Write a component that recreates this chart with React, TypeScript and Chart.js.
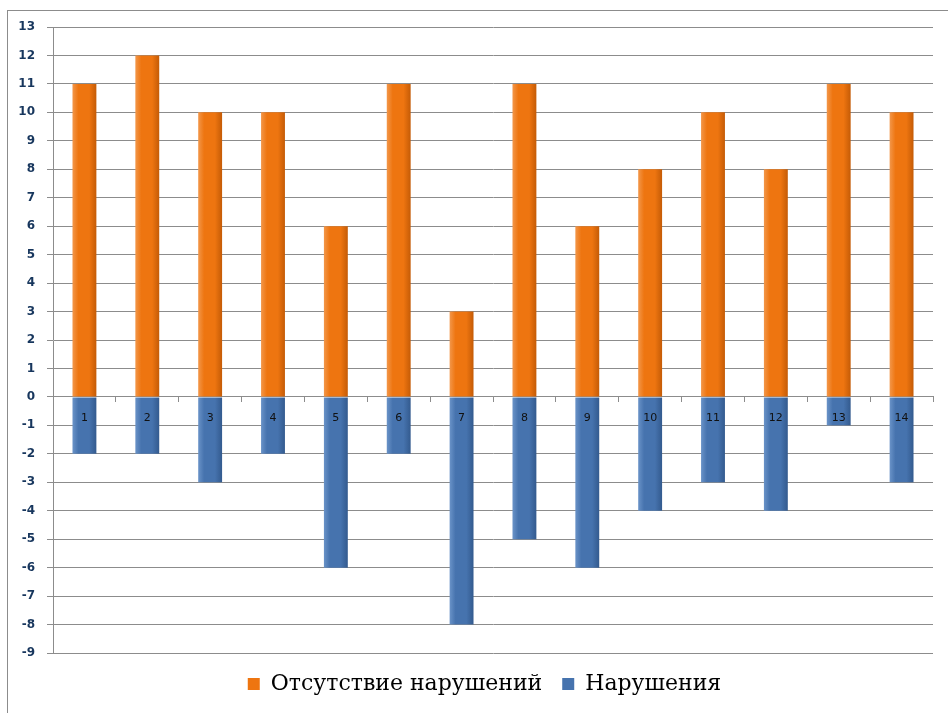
import React, { useEffect, useRef } from "react";
import { Chart, registerables } from "chart.js";

Chart.register(...registerables);

const categories = ["1", "2", "3", "4", "5", "6", "7", "8", "9", "10", "11", "12", "13", "14"];
const noViolations = [11, 12, 10, 10, 6, 11, 3, 11, 6, 8, 10, 8, 11, 10];
const violations = [-2, -2, -3, -2, -6, -2, -8, -5, -6, -4, -3, -4, -1, -3];
const seriesNames = ["Отсутствие нарушений", "Нарушения"];
const yMin = -9;
const yMax = 13;

function barGradient(stops: string[]) {
  return (ctx: any) => {
    const chart = ctx.chart;
    const xs = chart.scales && chart.scales.x;
    if (!chart.chartArea || !xs || ctx.dataIndex === undefined) return stops[1];
    const x = xs.getPixelForValue(ctx.dataIndex);
    const w = 12;
    const g = chart.ctx.createLinearGradient(x - w, 0, x + w, 0);
    g.addColorStop(0, stops[0]);
    g.addColorStop(0.25, stops[1]);
    g.addColorStop(0.7, stops[1]);
    g.addColorStop(1, stops[2]);
    return g;
  };
}

const categoryLabelPlugin = {
  id: "categoryLabels",
  afterDatasetsDraw(chart: any) {
    const xs = chart.scales.x;
    const ys = chart.scales.y;
    const ctx = chart.ctx;
    const y0 = ys.getPixelForValue(0);
    ctx.save();
    ctx.fillStyle = "#111111";
    ctx.font = "11px 'DejaVu Sans', sans-serif";
    ctx.textAlign = "center";
    ctx.textBaseline = "middle";
    chart.data.labels.forEach((lab: string, i: number) => {
      ctx.fillText(lab, xs.getPixelForValue(i), y0 + 21);
    });
    ctx.restore();
  },
};

const legendShiftPlugin = {
  id: "legendShift",
  afterLayout(chart: any) {
    const lg = chart.legend;
    if (lg) {
      lg.left += 18;
      lg.right += 18;
    }
  },
};

export default function App() {
  const ref = useRef<HTMLCanvasElement | null>(null);

  useEffect(() => {
    if (!ref.current) return;
    const chart = new Chart(ref.current, {
      type: "bar",
      data: {
        labels: categories,
        datasets: [
          {
            label: seriesNames[0],
            data: noViolations,
            backgroundColor: barGradient(["#F3974A", "#EE7510", "#C45B06"]),
            borderWidth: 0,
            barPercentage: 0.38,
            categoryPercentage: 1,
          },
          {
            label: seriesNames[1],
            data: violations,
            backgroundColor: barGradient(["#6A93C8", "#4673AE", "#335A8E"]),
            borderWidth: 0,
            barPercentage: 0.38,
            categoryPercentage: 1,
          },
        ],
      },
      plugins: [categoryLabelPlugin, legendShiftPlugin],
      options: {
        animation: false,
        responsive: false,
        maintainAspectRatio: false,
        layout: { padding: { left: 0, top: 27, right: 15, bottom: 8 } },
        plugins: {
          tooltip: { enabled: false },
          legend: {
            position: "bottom",
            labels: {
              boxWidth: 12,
              boxHeight: 12,
              padding: 20,
              color: "#000000",
              font: { family: "'DejaVu Serif', serif", size: 22 },
              generateLabels: (c: any) =>
                c.data.datasets.map((d: any, i: number) => ({
                  text: d.label,
                  fillStyle: i === 0 ? "#EE7510" : "#4673AE",
                  strokeStyle: i === 0 ? "#C8620A" : "#3A6298",
                  lineWidth: 0,
                  hidden: false,
                  datasetIndex: i,
                  fontColor: "#000000",
                })),
            },
          },
        },
        scales: {
          x: {
            stacked: true,
            position: { y: 0 },
            z: 1,
            offset: true,
            grid: {
              display: true,
              drawOnChartArea: false,
              drawTicks: true,
              tickLength: 5,
              color: "#8C8C8C",
              offset: true,
            },
            border: { display: true, color: "#8C8C8C", width: 1 },
            ticks: { display: false },
          },
          y: {
            stacked: true,
            min: yMin,
            max: yMax,
            afterFit: (scale: any) => {
              scale.width = 53;
            },
            grid: {
              color: "#8C8C8C",
              lineWidth: 1,
              drawTicks: true,
              tickLength: 6,
            },
            border: { display: true, color: "#8C8C8C", width: 1 },
            ticks: {
              stepSize: 1,
              padding: 12,
              color: "#17365D",
              font: { family: "'DejaVu Sans', sans-serif", size: 12, weight: "bold" },
            },
          },
        },
      },
    });
    return () => chart.destroy();
  }, []);

  return (
    <div style={{ position: "fixed", left: 0, top: 0, width: 948, height: 713, overflow: "hidden", background: "#fff" }}>
      <div
        style={{
          position: "absolute",
          left: 7,
          top: 10,
          width: 1000,
          height: 1000,
          border: "1px solid #8C8C8C",
        }}
      />
      <canvas ref={ref} width={948} height={713} style={{ position: "absolute", left: 0, top: 0, display: "block" }} />
    </div>
  );
}
